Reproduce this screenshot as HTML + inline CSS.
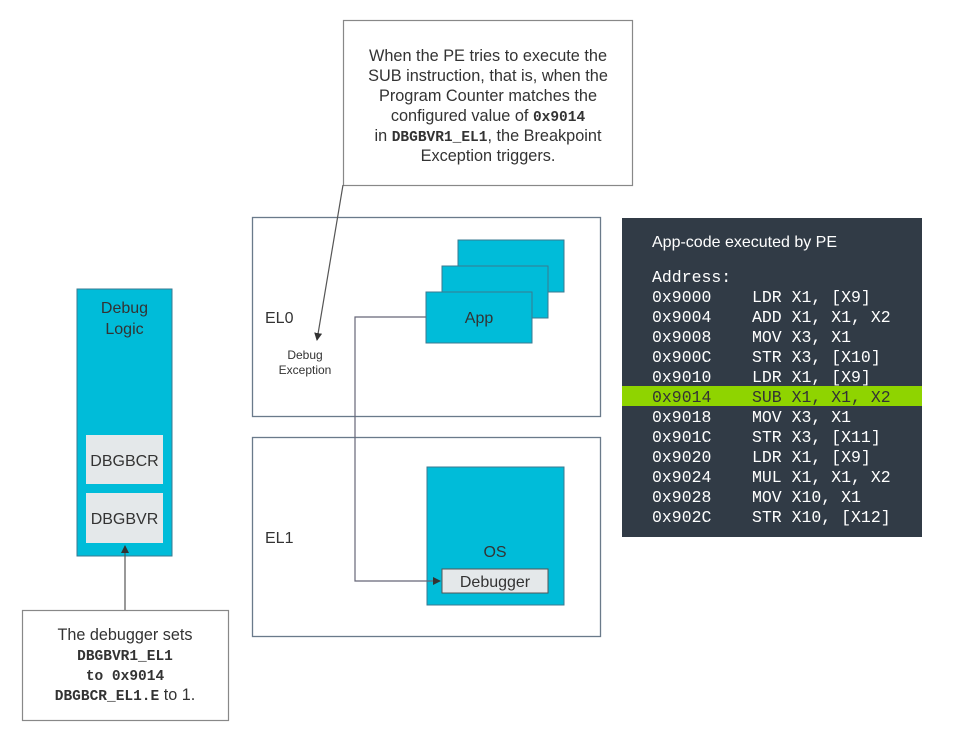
<!DOCTYPE html>
<html><head><meta charset="utf-8"><style>
html,body{margin:0;padding:0;background:#fff;}
body{width:955px;height:735px;overflow:hidden;}
svg text{font-family:"Liberation Sans",sans-serif;fill:#333;}
svg .m, svg .m text, svg text.m, svg tspan.m{font-family:"Liberation Mono",monospace;}
</style></head><body>
<svg width="955" height="735" viewBox="0 0 955 735" xmlns="http://www.w3.org/2000/svg">
<defs><marker id="ar" markerWidth="8" markerHeight="8" refX="7" refY="4" orient="auto" markerUnits="userSpaceOnUse"><path d="M0,0 L8,4 L0,8 z" fill="#333"/></marker></defs>
<rect x="343.5" y="20.5" width="289" height="165" fill="#fff" stroke="#888" stroke-width="1.2"/>
<g font-size="16.3" text-anchor="middle">
<text x="488" y="61">When the PE tries to execute the</text>
<text x="488" y="81">SUB instruction, that is, when the</text>
<text x="488" y="101">Program Counter matches the</text>
<text x="488" y="121">configured value of <tspan class="m" font-weight="bold" font-size="14.5">0x9014</tspan></text>
<text x="488" y="141">in <tspan class="m" font-weight="bold" font-size="14.5">DBGBVR1_EL1</tspan>, the Breakpoint</text>
<text x="488" y="161">Exception triggers.</text>
</g>
<rect x="252.5" y="217.5" width="348" height="199" fill="none" stroke="#6a7a8a" stroke-width="1.3"/>
<rect x="252.5" y="437.5" width="348" height="199" fill="none" stroke="#6a7a8a" stroke-width="1.3"/>
<text x="265" y="323" font-size="16">EL0</text>
<text x="265" y="543" font-size="16">EL1</text>
<line x1="343" y1="185" x2="317" y2="340" stroke="#555" stroke-width="1.2" marker-end="url(#ar)"/>
<text x="305" y="359" font-size="12" text-anchor="middle">Debug</text>
<text x="305" y="374" font-size="12" text-anchor="middle">Exception</text>
<rect x="458" y="240" width="106" height="52" fill="#00bcd9" stroke="#3a7a90"/>
<rect x="442" y="266" width="106" height="52" fill="#00bcd9" stroke="#3a7a90"/>
<rect x="426" y="292" width="106" height="51" fill="#00bcd9" stroke="#3a7a90"/>
<text x="479" y="323" font-size="16" text-anchor="middle">App</text>
<rect x="427" y="467" width="137" height="138" fill="#00bcd9" stroke="#3a7a90"/>
<text x="495" y="557" font-size="16" text-anchor="middle">OS</text>
<rect x="442" y="569" width="106" height="24" fill="#e4e8ea" stroke="#555"/>
<text x="495" y="587" font-size="16" text-anchor="middle">Debugger</text>
<polyline points="426,317 355,317 355,581 440,581" fill="none" stroke="#667" stroke-width="1.2" marker-end="url(#ar)"/>
<rect x="77" y="289" width="95" height="267" fill="#00bcd9" stroke="#3a7a90"/>
<text x="124.5" y="313" font-size="16" text-anchor="middle">Debug</text>
<text x="124.5" y="334" font-size="16" text-anchor="middle">Logic</text>
<rect x="86" y="435" width="77" height="49" fill="#e4e8ea"/>
<text x="124.5" y="466" font-size="16" text-anchor="middle">DBGBCR</text>
<rect x="86" y="493" width="77" height="50" fill="#e4e8ea"/>
<text x="124.5" y="524" font-size="16" text-anchor="middle">DBGBVR</text>
<line x1="125" y1="610" x2="125" y2="546" stroke="#555" stroke-width="1.2" marker-end="url(#ar)"/>
<rect x="22.5" y="610.5" width="206" height="110" fill="#fff" stroke="#888" stroke-width="1.2"/>
<g font-size="16.2" text-anchor="middle">
<text x="125" y="640">The debugger sets</text>
<text x="125" y="660" class="m" font-weight="bold" font-size="14.5">DBGBVR1_EL1</text>
<text x="125" y="680" class="m" font-weight="bold" font-size="14.5">to 0x9014</text>
<text x="125" y="700"><tspan class="m" font-weight="bold" font-size="14.5">DBGBCR_EL1.E</tspan> to 1.</text>
</g>
<rect x="622" y="218" width="300" height="319" fill="#313b46"/>
<rect x="622" y="386" width="300" height="20" fill="#8fd400"/>
<text x="652" y="247" font-size="16" style="fill:#fff">App-code executed by PE</text>
<g class="m" font-size="16.5">
<text class="m" x="652" y="282" style="fill:#fff">Address:</text>
<text class="m" x="652" y="302" style="fill:#fff">0x9000</text><text class="m" x="752" y="302" style="fill:#fff">LDR X1, [X9]</text>
<text class="m" x="652" y="322" style="fill:#fff">0x9004</text><text class="m" x="752" y="322" style="fill:#fff">ADD X1, X1, X2</text>
<text class="m" x="652" y="342" style="fill:#fff">0x9008</text><text class="m" x="752" y="342" style="fill:#fff">MOV X3, X1</text>
<text class="m" x="652" y="362" style="fill:#fff">0x900C</text><text class="m" x="752" y="362" style="fill:#fff">STR X3, [X10]</text>
<text class="m" x="652" y="382" style="fill:#fff">0x9010</text><text class="m" x="752" y="382" style="fill:#fff">LDR X1, [X9]</text>
<text class="m" x="652" y="402" style="fill:#333">0x9014</text><text class="m" x="752" y="402" style="fill:#333">SUB X1, X1, X2</text>
<text class="m" x="652" y="422" style="fill:#fff">0x9018</text><text class="m" x="752" y="422" style="fill:#fff">MOV X3, X1</text>
<text class="m" x="652" y="442" style="fill:#fff">0x901C</text><text class="m" x="752" y="442" style="fill:#fff">STR X3, [X11]</text>
<text class="m" x="652" y="462" style="fill:#fff">0x9020</text><text class="m" x="752" y="462" style="fill:#fff">LDR X1, [X9]</text>
<text class="m" x="652" y="482" style="fill:#fff">0x9024</text><text class="m" x="752" y="482" style="fill:#fff">MUL X1, X1, X2</text>
<text class="m" x="652" y="502" style="fill:#fff">0x9028</text><text class="m" x="752" y="502" style="fill:#fff">MOV X10, X1</text>
<text class="m" x="652" y="522" style="fill:#fff">0x902C</text><text class="m" x="752" y="522" style="fill:#fff">STR X10, [X12]</text>
</g>
</svg>
</body></html>
